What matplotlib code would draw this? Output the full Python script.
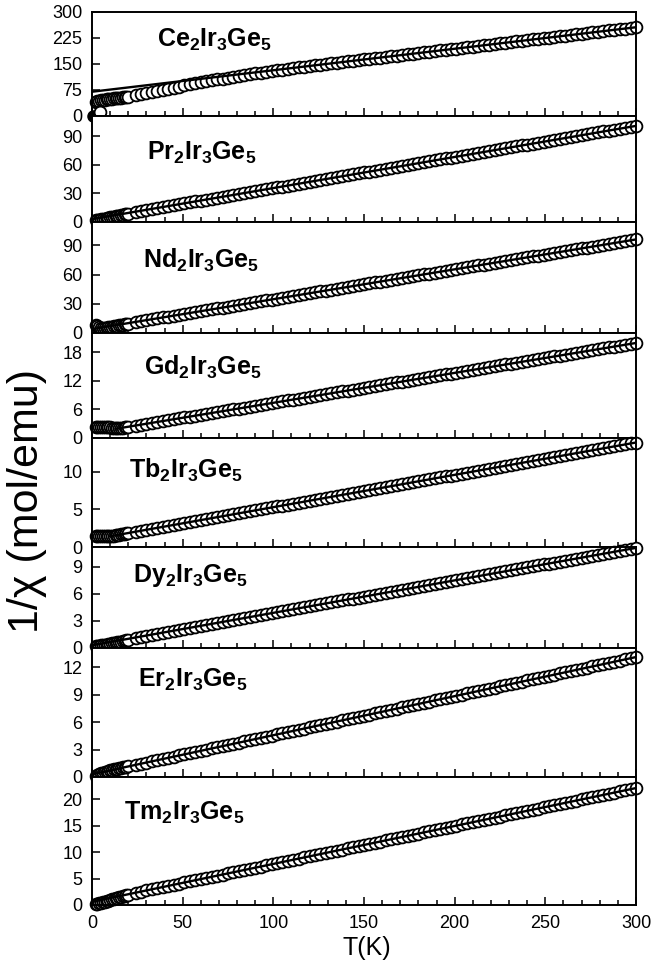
import matplotlib
matplotlib.use('Agg')
import matplotlib.pyplot as plt
from matplotlib.ticker import MultipleLocator

plt.rcParams['font.family'] = 'Liberation Sans'
plt.rcParams['mathtext.fontset'] = 'custom'
plt.rcParams['mathtext.rm'] = 'Liberation Sans'
plt.rcParams['mathtext.bf'] = 'Liberation Sans:bold'

# measurement temperatures (K), shared by all compounds
temperature = [2, 3, 4, 5, 6, 7, 8, 9, 10, 11, 12, 13, 14, 15, 16, 17, 18, 19, 20,
               24, 27, 30, 33, 36, 39, 42, 45, 48, 51,
               54, 57, 60, 63, 66, 69, 72, 75, 78, 81,
               84, 87, 90, 93, 96, 99, 102, 105, 108, 111,
               114, 117, 120, 123, 126, 129, 132, 135, 138, 141,
               144, 147, 150, 153, 156, 159, 162, 165, 168, 171,
               174, 177, 180, 183, 186, 189, 192, 195, 198, 201,
               204, 207, 210, 213, 216, 219, 222, 225, 228, 231,
               234, 237, 240, 243, 246, 249, 252, 255, 258, 261,
               264, 267, 270, 273, 276, 279, 282, 285, 288, 291,
               294, 297, 300]

# 1/chi (mol/emu) for each compound
ce_inv_chi = [40, 42, 43.5, 45, 46, 47, 47.8, 48.5, 49.2, 50, 50.6, 51.2, 51.8, 52.4, 53, 53.6, 54.2, 54.9, 55.6,
              59.5, 62.5, 65.5, 68.8, 72, 75.2, 78.4, 81.6, 84.8, 88,
              91, 94, 97, 99.8, 102.6, 105.3, 108, 110.6, 113.2, 115.6,
              118, 120.3, 122.6, 124.8, 127, 129.2, 131.3, 133.6, 135.8, 137.9,
              140, 142.2, 144.2, 146.3, 148.1, 150.0, 151.8, 153.7, 155.6, 157.4,
              159.3, 161.1, 163.0, 164.9, 166.7, 168.6, 170.4, 172.3, 174.2, 176.0,
              177.9, 179.7, 181.6, 183.5, 185.3, 187.2, 189.0, 190.9, 192.8, 194.6,
              196.5, 198.3, 200.2, 202.1, 203.9, 205.8, 207.6, 209.5, 211.4, 213.2,
              215.1, 216.9, 218.8, 220.7, 222.5, 224.4, 226.2, 228.1, 230.0, 231.8,
              233.7, 235.5, 237.4, 239.3, 241.1, 243.0, 244.8, 246.7, 248.6, 250.4,
              252.3, 254.1, 256.0]

pr_inv_chi = [2.0, 2.2, 2.5, 2.8, 3.2, 3.6, 4.0, 4.4, 4.8, 5.2, 5.6, 6.0, 6.4, 6.8, 7.2, 7.6, 8.0, 8.4, 8.8,
              10.4, 11.5, 12.6, 13.7, 14.8, 15.8, 16.7, 17.7, 18.7, 19.7,
              20.7, 21.6, 22.6, 23.6, 24.6, 25.6, 26.5, 27.5, 28.5, 29.5,
              30.5, 31.5, 32.4, 33.4, 34.4, 35.4, 36.4, 37.3, 38.3, 39.3,
              40.3, 41.3, 42.2, 43.2, 44.2, 45.2, 46.2, 47.1, 48.1, 49.1,
              50.1, 51.1, 52.1, 53.0, 54.0, 55.0, 56.0, 57.0, 57.9, 58.9,
              59.9, 60.9, 61.9, 62.8, 63.8, 64.8, 65.8, 66.8, 67.7, 68.7,
              69.7, 70.7, 71.7, 72.7, 73.6, 74.6, 75.6, 76.6, 77.6, 78.5,
              79.5, 80.5, 81.5, 82.5, 83.4, 84.4, 85.4, 86.4, 87.4, 88.4,
              89.3, 90.3, 91.3, 92.3, 93.2, 94.2, 95.2, 96.2, 97.2, 98.2,
              99.1, 100.1, 101.1]

nd_inv_chi = [8.0, 7.0, 6.0, 5.5, 5.3, 5.3, 5.5, 5.8, 6.1, 6.4, 6.8, 7.1, 7.4, 7.8, 8.1, 8.4, 8.8, 9.1, 9.4,
              11.0, 12.1, 13.1, 14.1, 15.1, 16.0, 16.9, 17.8, 18.7, 19.7,
              20.6, 21.5, 22.4, 23.3, 24.3, 25.2, 26.1, 27.0, 27.9, 28.9,
              29.8, 30.7, 31.6, 32.6, 33.5, 34.4, 35.3, 36.2, 37.2, 38.1,
              39.0, 39.9, 40.8, 41.8, 42.7, 43.6, 44.5, 45.4, 46.4, 47.3,
              48.2, 49.1, 50.1, 51.0, 51.9, 52.8, 53.7, 54.7, 55.6, 56.5,
              57.4, 58.3, 59.3, 60.2, 61.1, 62.0, 62.9, 63.9, 64.8, 65.7,
              66.6, 67.6, 68.5, 69.4, 70.3, 71.2, 72.2, 73.1, 74.0, 74.9,
              75.8, 76.8, 77.7, 78.6, 79.5, 80.4, 81.4, 82.3, 83.2, 84.1,
              85.1, 86.0, 86.9, 87.8, 88.7, 89.7, 90.6, 91.5, 92.4, 93.3,
              94.3, 95.2, 96.1]

gd_inv_chi = [2.2, 2.2, 2.2, 2.2, 2.2, 2.2, 2.2, 2.2, 2.2, 2.15, 2.1, 2.05, 2.0, 2.05, 2.1, 2.17, 2.23, 2.29, 2.35,
              2.60, 2.79, 2.98, 3.17, 3.36, 3.55, 3.73, 3.92, 4.11, 4.30,
              4.49, 4.67, 4.86, 5.05, 5.24, 5.43, 5.61, 5.80, 5.99, 6.18,
              6.37, 6.55, 6.74, 6.93, 7.12, 7.31, 7.50, 7.68, 7.87, 8.06,
              8.25, 8.44, 8.62, 8.81, 9.00, 9.19, 9.38, 9.56, 9.75, 9.94,
              10.13, 10.32, 10.51, 10.69, 10.88, 11.07, 11.26, 11.45, 11.63, 11.82,
              12.01, 12.20, 12.39, 12.57, 12.76, 12.95, 13.14, 13.33, 13.51, 13.70,
              13.89, 14.08, 14.27, 14.46, 14.64, 14.83, 15.02, 15.21, 15.40, 15.58,
              15.77, 15.96, 16.15, 16.34, 16.52, 16.71, 16.90, 17.09, 17.28, 17.46,
              17.65, 17.84, 18.03, 18.22, 18.41, 18.59, 18.78, 18.97, 19.16, 19.35,
              19.53, 19.72, 19.91]

tb_inv_chi = [1.4, 1.4, 1.4, 1.4, 1.4, 1.4, 1.4, 1.4, 1.4, 1.47, 1.52, 1.56, 1.60, 1.65, 1.69, 1.73, 1.77, 1.82, 1.86,
              2.03, 2.16, 2.29, 2.42, 2.55, 2.68, 2.81, 2.94, 3.06, 3.19,
              3.32, 3.45, 3.58, 3.71, 3.84, 3.97, 4.10, 4.23, 4.35, 4.48,
              4.61, 4.74, 4.87, 5.00, 5.13, 5.26, 5.39, 5.52, 5.64, 5.77,
              5.90, 6.03, 6.16, 6.29, 6.42, 6.55, 6.68, 6.81, 6.93, 7.06,
              7.19, 7.32, 7.45, 7.58, 7.71, 7.84, 7.97, 8.10, 8.22, 8.35,
              8.48, 8.61, 8.74, 8.87, 9.00, 9.13, 9.26, 9.39, 9.51, 9.64,
              9.77, 9.90, 10.03, 10.16, 10.29, 10.42, 10.55, 10.68, 10.80, 10.93,
              11.06, 11.19, 11.32, 11.45, 11.58, 11.71, 11.84, 11.97, 12.09, 12.22,
              12.35, 12.48, 12.61, 12.74, 12.87, 13.00, 13.13, 13.26, 13.38, 13.51,
              13.64, 13.77, 13.90]

dy_inv_chi = [0.2, 0.22, 0.25, 0.28, 0.31, 0.34, 0.38, 0.42, 0.46, 0.5, 0.54, 0.58, 0.62, 0.66, 0.70, 0.74, 0.79, 0.84, 0.89,
              1.10, 1.23, 1.38, 1.49, 1.60, 1.70, 1.81, 1.92, 2.03, 2.14,
              2.24, 2.35, 2.46, 2.57, 2.68, 2.78, 2.89, 3.00, 3.11, 3.22,
              3.32, 3.43, 3.54, 3.65, 3.76, 3.86, 3.97, 4.08, 4.19, 4.30,
              4.40, 4.51, 4.62, 4.73, 4.84, 4.94, 5.05, 5.16, 5.27, 5.38,
              5.48, 5.59, 5.70, 5.81, 5.92, 6.02, 6.13, 6.24, 6.35, 6.46,
              6.56, 6.67, 6.78, 6.89, 7.00, 7.10, 7.21, 7.32, 7.43, 7.54,
              7.64, 7.75, 7.86, 7.97, 8.08, 8.18, 8.29, 8.40, 8.51, 8.62,
              8.72, 8.83, 8.94, 9.05, 9.16, 9.26, 9.37, 9.48, 9.59, 9.70,
              9.80, 9.91, 10.02, 10.13, 10.24, 10.34, 10.45, 10.56, 10.67, 10.78,
              10.88, 10.99, 11.10]

er_inv_chi = [0.15, 0.25, 0.33, 0.40, 0.47, 0.53, 0.60, 0.66, 0.72, 0.77, 0.82, 0.87, 0.92, 0.96, 1.00, 1.04, 1.08, 1.12, 1.16,
              1.32, 1.45, 1.58, 1.71, 1.84, 1.97, 2.09, 2.22, 2.35, 2.48,
              2.61, 2.73, 2.86, 2.99, 3.12, 3.25, 3.37, 3.50, 3.63, 3.76,
              3.89, 4.01, 4.14, 4.27, 4.40, 4.53, 4.66, 4.78, 4.91, 5.04,
              5.17, 5.30, 5.42, 5.55, 5.68, 5.81, 5.94, 6.06, 6.19, 6.32,
              6.45, 6.58, 6.71, 6.83, 6.96, 7.09, 7.22, 7.35, 7.47, 7.60,
              7.73, 7.86, 7.99, 8.11, 8.24, 8.37, 8.50, 8.63, 8.75, 8.88,
              9.01, 9.14, 9.27, 9.40, 9.52, 9.65, 9.78, 9.91, 10.04, 10.16,
              10.29, 10.42, 10.55, 10.68, 10.80, 10.93, 11.06, 11.19, 11.32, 11.44,
              11.57, 11.70, 11.83, 11.96, 12.09, 12.21, 12.34, 12.47, 12.60, 12.73,
              12.85, 12.98, 13.11]

tm_inv_chi = [0.15, 0.25, 0.35, 0.45, 0.55, 0.65, 0.75, 0.85, 0.95, 1.05, 1.15, 1.25, 1.35, 1.45, 1.55, 1.65, 1.75, 1.85, 1.95,
              2.32, 2.54, 2.75, 2.97, 3.18, 3.40, 3.61, 3.83, 4.04, 4.26,
              4.47, 4.69, 4.90, 5.12, 5.33, 5.55, 5.76, 5.98, 6.19, 6.41,
              6.62, 6.84, 7.05, 7.27, 7.48, 7.70, 7.91, 8.13, 8.34, 8.56,
              8.77, 8.99, 9.20, 9.42, 9.63, 9.85, 10.06, 10.28, 10.49, 10.71,
              10.92, 11.14, 11.36, 11.57, 11.79, 12.00, 12.22, 12.43, 12.65, 12.86,
              13.08, 13.29, 13.51, 13.72, 13.94, 14.15, 14.37, 14.58, 14.80, 15.01,
              15.23, 15.44, 15.66, 15.87, 16.09, 16.30, 16.52, 16.73, 16.95, 17.16,
              17.38, 17.59, 17.81, 18.02, 18.24, 18.45, 18.67, 18.88, 19.10, 19.31,
              19.53, 19.74, 19.96, 20.17, 20.39, 20.60, 20.82, 21.03, 21.25, 21.46,
              21.68, 21.89, 22.11]

# two stray low-temperature points in the Ce data
ce_stray_T = [0.5, 4.5]
ce_stray_v = [0, 12]

# Curie-Weiss fit lines: (T range, 1/chi at the ends)
ce_fit = ([0, 300], [70, 256])
pr_fit = ([0, 300], [3, 101.1])
nd_fit = ([0, 300], [4, 96.1])
gd_fit = ([13, 300], [1.92, 19.91])
tb_fit = ([10, 300], [1.43, 13.9])
dy_fit = ([0, 300], [0.3, 11.1])
er_fit = ([0, 300], [0.3, 13.11])
tm_fit = ([0, 300], [0.6, 22.11])

compounds = ['Ce', 'Pr', 'Nd', 'Gd', 'Tb', 'Dy', 'Er', 'Tm']
inv_chi = [ce_inv_chi, pr_inv_chi, nd_inv_chi, gd_inv_chi, tb_inv_chi, dy_inv_chi, er_inv_chi, tm_inv_chi]
fits = [ce_fit, pr_fit, nd_fit, gd_fit, tb_fit, dy_fit, er_fit, tm_fit]
y_ticks = [[0, 75, 150, 225, 300], [0, 30, 60, 90], [0, 30, 60, 90], [0, 6, 12, 18],
           [0, 5, 10], [0, 3, 6, 9], [0, 3, 6, 9, 12], [0, 5, 10, 15, 20]]

# axis settings
y_max = [300, 111.5, 114, 22, 14.5, 11.2, 14.1, 24.2]
heights = [104, 106, 111, 105, 109, 101, 129, 128]
label_pos = [(157, 47), (147, 160), (143, 268), (144, 375), (129, 478), (133, 582), (138, 687), (124, 820)]

W, H = 651, 964
fig = plt.figure(figsize=(W / 100, H / 100), dpi=100)
gs = fig.add_gridspec(8, 1, height_ratios=heights, left=92 / W, right=636 / W,
                      top=1 - 12 / H, bottom=1 - 905 / H, hspace=0)

circle = dict(marker='o', ls='none', ms=8.5, mfc='white', mec='black', mew=1.3,
              clip_on=False, zorder=2)

for i, name in enumerate(compounds):
    ax = fig.add_subplot(gs[i])
    ax.plot(temperature, inv_chi[i], **circle)
    if name == 'Ce':
        ax.plot(ce_stray_T[:1], ce_stray_v[:1], 'o', ms=8, color='black', clip_on=False, zorder=2)
        ax.plot(ce_stray_T[1:], ce_stray_v[1:], **circle)
    ax.plot(fits[i][0], fits[i][1], '-', color='black', lw=1.7, zorder=3)

    ax.set_xlim(0, 300)
    ax.set_ylim(0, y_max[i])
    ax.set_yticks(y_ticks[i])
    ax.xaxis.set_major_locator(MultipleLocator(50))
    ax.xaxis.set_minor_locator(MultipleLocator(10))
    ax.tick_params(axis='x', which='major', direction='in', length=5.5, width=1.1,
                   top=False, labelsize=13, pad=7, labelbottom=(i == 7))
    ax.tick_params(axis='x', which='minor', direction='in', length=3.5, width=1.1, top=False)
    ax.tick_params(axis='y', direction='in', length=5.8, width=1.1, right=False,
                   labelsize=13, pad=7)
    for sp in ax.spines.values():
        sp.set_linewidth(1.4)

    x0, yb = label_pos[i]
    fig.text(x0 / W, 1 - yb / H, r'$\mathbf{%s_2Ir_3Ge_5}$' % name, fontsize=18,
             ha='left', va='baseline')

fig.text(27 / W, 1 - 501 / H, '1/\u03c7 (mol/emu)', rotation=90, fontsize=31,
         ha='center', va='center')
fig.text(367 / W, 1 - 948 / H, 'T(K)', fontsize=18, ha='center', va='center')

fig.savefig('out.png', dpi=100)
